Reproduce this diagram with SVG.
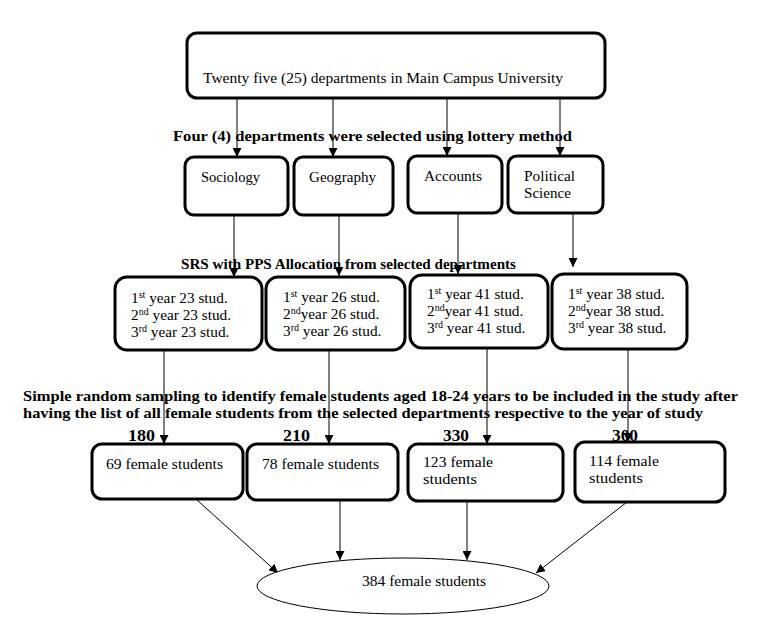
<svg xmlns="http://www.w3.org/2000/svg" width="761" height="629" viewBox="0 0 761 629">
<defs>
<style>
.box{fill:#fff;stroke:#000;stroke-width:3}
.t{font-family:"Liberation Serif","DejaVu Serif",serif;font-size:14.5px;fill:#000}
.y{font-size:15.3px}
.b{font-family:"Liberation Serif","DejaVu Serif",serif;font-size:14.5px;font-weight:bold;fill:#000}
.n{font-size:16px}
.ln{stroke:#000;stroke-width:1;fill:none}
.sup{font-size:10px}
</style>
<marker id="ah" markerUnits="userSpaceOnUse" markerWidth="10" markerHeight="9" refX="9" refY="4.5" orient="auto">
<path d="M0,0 L9,4.5 L0,9 z" fill="#000"/>
</marker>
</defs>
<rect width="761" height="629" fill="#fff"/>

<g id="connectors">
<line class="ln" x1="237" y1="98" x2="237" y2="157" marker-end="url(#ah)"/>
<line class="ln" x1="333" y1="98" x2="333" y2="157" marker-end="url(#ah)"/>
<line class="ln" x1="447" y1="98" x2="447" y2="156" marker-end="url(#ah)"/>
<line class="ln" x1="560" y1="98" x2="560" y2="156" marker-end="url(#ah)"/>
<line class="ln" x1="234" y1="215" x2="234" y2="277" marker-end="url(#ah)"/>
<line class="ln" x1="339" y1="215" x2="339" y2="276" marker-end="url(#ah)"/>
<line class="ln" x1="458" y1="213" x2="458" y2="274" marker-end="url(#ah)"/>
<line class="ln" x1="573" y1="213" x2="573" y2="267" marker-end="url(#ah)"/>
<line class="ln" x1="164" y1="350" x2="164" y2="444" marker-end="url(#ah)"/>
<line class="ln" x1="329" y1="350" x2="329" y2="444" marker-end="url(#ah)"/>
<line class="ln" x1="487" y1="348" x2="487" y2="444" marker-end="url(#ah)"/>
<line class="ln" x1="628" y1="349" x2="628" y2="442" marker-end="url(#ah)"/>
<line class="ln" x1="197" y1="500" x2="278" y2="573" marker-end="url(#ah)"/>
<line class="ln" x1="340" y1="500" x2="340" y2="560" marker-end="url(#ah)"/>
<line class="ln" x1="467" y1="501" x2="467" y2="560" marker-end="url(#ah)"/>
<line class="ln" x1="627" y1="502" x2="536" y2="573" marker-end="url(#ah)"/>
</g>

<g id="labels">
<text class="b" x="173" y="141" textLength="399" lengthAdjust="spacingAndGlyphs">Four (4) departments were selected using lottery method</text>
<text class="b" x="181" y="269" textLength="335" lengthAdjust="spacingAndGlyphs">SRS with PPS Allocation from selected departments</text>
<text class="b" x="23" y="401" textLength="715" lengthAdjust="spacingAndGlyphs">Simple random sampling to identify female students aged 18-24 years to be included in the study after</text>
<text class="b" x="23" y="418" textLength="680" lengthAdjust="spacingAndGlyphs">having the list of all female students from the selected departments respective to the year of study</text>
<text class="b n" x="128" y="441" textLength="27" lengthAdjust="spacingAndGlyphs">180</text>
<text class="b n" x="283" y="441" textLength="27" lengthAdjust="spacingAndGlyphs">210</text>
<text class="b n" x="443" y="441" textLength="26" lengthAdjust="spacingAndGlyphs">330</text>
<text class="b n" x="612" y="441" textLength="26" lengthAdjust="spacingAndGlyphs">300</text>
</g>

<g id="n-main">
<rect class="box" x="187" y="33" width="418" height="65" rx="10"/>
<text class="t" x="203" y="83" font-size="15" textLength="360" lengthAdjust="spacingAndGlyphs">Twenty five (25) departments in Main Campus University</text>
</g>

<g id="n-sociology">
<rect class="box" x="185" y="157" width="103" height="58" rx="9"/>
<text class="t" x="201" y="182" textLength="59" lengthAdjust="spacingAndGlyphs">Sociology</text>
</g>
<g id="n-geography">
<rect class="box" x="294" y="157" width="99" height="58" rx="9"/>
<text class="t" x="309" y="182" textLength="67" lengthAdjust="spacingAndGlyphs">Geography</text>
</g>
<g id="n-accounts">
<rect class="box" x="408" y="156" width="94" height="57" rx="9"/>
<text class="t" x="424" y="181" textLength="58" lengthAdjust="spacingAndGlyphs">Accounts</text>
</g>
<g id="n-political">
<rect class="box" x="508" y="156" width="95" height="57" rx="9"/>
<text class="t" x="524" y="181" textLength="51" lengthAdjust="spacingAndGlyphs">Political</text>
<text class="t" x="524" y="198" textLength="47" lengthAdjust="spacingAndGlyphs">Science</text>
</g>

<g id="n-soc-years">
<rect class="box" x="115" y="277" width="147" height="73" rx="12"/>
<text class="t y" x="131" y="303">1<tspan class="sup" dy="-5">st</tspan><tspan dy="5"> year 23 stud.</tspan></text>
<text class="t y" x="131" y="320">2<tspan class="sup" dy="-5">nd</tspan><tspan dy="5"> year 23 stud.</tspan></text>
<text class="t y" x="131" y="337">3<tspan class="sup" dy="-5">rd</tspan><tspan dy="5"> year 23 stud.</tspan></text>
</g>
<g id="n-geo-years">
<rect class="box" x="266" y="277" width="139" height="73" rx="12"/>
<text class="t y" x="283" y="302">1<tspan class="sup" dy="-5">st</tspan><tspan dy="5"> year 26 stud.</tspan></text>
<text class="t y" x="283" y="319">2<tspan class="sup" dy="-5">nd</tspan><tspan dy="5">year 26 stud.</tspan></text>
<text class="t y" x="283" y="336">3<tspan class="sup" dy="-5">rd</tspan><tspan dy="5"> year 26 stud.</tspan></text>
</g>
<g id="n-acc-years">
<rect class="box" x="410" y="275" width="138" height="73" rx="12"/>
<text class="t y" x="427" y="299">1<tspan class="sup" dy="-5">st</tspan><tspan dy="5"> year 41 stud.</tspan></text>
<text class="t y" x="427" y="316">2<tspan class="sup" dy="-5">nd</tspan><tspan dy="5">year 41 stud.</tspan></text>
<text class="t y" x="427" y="333">3<tspan class="sup" dy="-5">rd</tspan><tspan dy="5"> year 41 stud.</tspan></text>
</g>
<g id="n-pol-years">
<rect class="box" x="552" y="274" width="135" height="75" rx="12"/>
<text class="t y" x="568" y="299">1<tspan class="sup" dy="-5">st</tspan><tspan dy="5"> year 38 stud.</tspan></text>
<text class="t y" x="568" y="316">2<tspan class="sup" dy="-5">nd</tspan><tspan dy="5">year 38 stud.</tspan></text>
<text class="t y" x="568" y="333">3<tspan class="sup" dy="-5">rd</tspan><tspan dy="5"> year 38 stud.</tspan></text>
</g>

<g id="n-soc-female">
<rect class="box" x="92" y="444" width="151" height="55" rx="10"/>
<text class="t" x="106" y="469" textLength="117" lengthAdjust="spacingAndGlyphs">69 female students</text>
</g>
<g id="n-geo-female">
<rect class="box" x="247" y="444" width="151" height="56" rx="10"/>
<text class="t" x="262" y="469" textLength="117" lengthAdjust="spacingAndGlyphs">78 female students</text>
</g>
<g id="n-acc-female">
<rect class="box" x="408" y="444" width="155" height="57" rx="10"/>
<text class="t" x="423" y="467" textLength="70" lengthAdjust="spacingAndGlyphs">123 female</text>
<text class="t" x="423" y="484" textLength="54" lengthAdjust="spacingAndGlyphs">students</text>
</g>
<g id="n-pol-female">
<rect class="box" x="575" y="442" width="150" height="60" rx="10"/>
<text class="t" x="589" y="466" textLength="70" lengthAdjust="spacingAndGlyphs">114 female</text>
<text class="t" x="589" y="483" textLength="54" lengthAdjust="spacingAndGlyphs">students</text>
</g>

<g id="n-total">
<ellipse cx="403" cy="586" rx="146" ry="28" fill="#fff" stroke="#000" stroke-width="1"/>
<text class="t" x="362" y="586" textLength="124" lengthAdjust="spacingAndGlyphs">384 female students</text>
</g>
</svg>
